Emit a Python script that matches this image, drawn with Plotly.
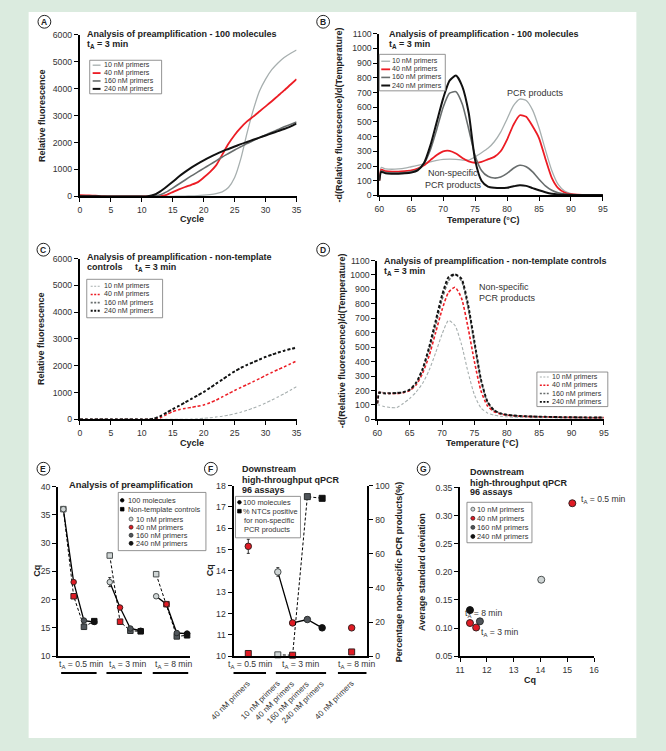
import plotly.graph_objects as go

W, H = 666, 751
FONT = "Liberation Sans, Arial, Helvetica, sans-serif"

# ---------------- data ----------------
cycles = list(range(0, 36))
A_10nM = [15, 12, 8, 5, 3, 2, 1, 0, 0, 0, 0, 0, 0, 0, 2, 5, 8, 12, 18, 28, 45, 70, 105, 170, 330, 700,
          1400, 2350, 3200, 3900, 4350, 4700, 4950, 5150, 5300, 5430]
A_40nM = [45, 40, 30, 18, 8, 3, 0, 0, 0, 0, 0, 0, 0, 10, 60, 160, 260, 350, 430, 520, 700, 900, 1150,
          1550, 1950, 2280, 2550, 2780, 2960, 3150, 3340, 3530, 3730, 3930, 4140, 4350]
A_160nM = [5, 5, 3, 2, 1, 0, 0, 0, 0, 0, 0, 0, 10, 60, 170, 310, 460, 610, 760, 900, 1040, 1180, 1320,
           1460, 1590, 1720, 1840, 1960, 2070, 2180, 2280, 2380, 2480, 2580, 2670, 2760]
A_240nM = [5, 5, 3, 2, 1, 0, 0, 0, 0, 0, 0, 10, 60, 190, 360, 540, 740, 910, 1070, 1210, 1340, 1460, 1570,
           1670, 1760, 1850, 1940, 2020, 2100, 2180, 2260, 2340, 2420, 2500, 2590, 2700]

temps = [60, 60.3] + list(range(61, 96))
B_10nM = [110, 190, 180, 178, 180, 185, 195, 205, 215, 228, 238, 245, 247, 245, 240, 240, 262, 290, 320,
          365, 430, 520, 610, 655, 645, 580, 460, 310, 170, 75, 30, 12, 6, 4, 3, 3, 3]
B_40nM = [100, 175, 165, 162, 162, 165, 170, 182, 205, 240, 275, 300, 303, 285, 255, 232, 222, 228, 245,
          262, 300, 380, 480, 545, 535, 470, 390, 250, 120, 50, 20, 8, 5, 4, 3, 3, 3]
B_160nM = [100, 165, 155, 152, 152, 155, 160, 175, 215, 310, 450, 600, 695, 705, 620, 450, 270, 170, 130,
           118, 125, 150, 185, 205, 195, 160, 110, 65, 35, 18, 10, 6, 4, 3, 3, 3, 3]
B_240nM = [100, 160, 150, 148, 148, 150, 155, 170, 220, 340, 500, 660, 780, 815, 740, 560, 240, 100, 60,
           52, 50, 52, 62, 70, 65, 50, 35, 22, 12, 7, 4, 3, 3, 3, 3, 3, 3]

C_10nM = [0] * 18 + [10, 20, 40, 60, 90, 120, 160, 210, 270, 340, 420, 510, 610, 720, 840, 960, 1090, 1220]
C_40nM = [0] * 13 + [60, 180, 290, 360, 410, 450, 490, 540, 620, 720, 840, 960, 1080, 1190, 1300, 1410,
                     1520, 1640, 1750, 1860, 1960, 2070, 2180]
C_160nM = [0] * 12 + [40, 130, 260, 390, 510, 640, 770, 900, 1030, 1180, 1340, 1490, 1650, 1800, 1930,
                      2040, 2140, 2240, 2340, 2420, 2500, 2570, 2640, 2700]
C_240nM = [0] * 12 + [30, 120, 250, 380, 500, 630, 760, 890, 1020, 1170, 1330, 1480, 1640, 1790, 1920,
                      2030, 2130, 2230, 2330, 2410, 2490, 2560, 2620, 2670]

D_10nM = [100, 100, 90, 82, 82, 110, 145, 190, 250, 340, 460, 590, 685, 650, 520, 330, 170, 80, 45, 30,
          22, 18, 15, 14, 13, 12, 12, 11, 11, 10, 10, 9, 9, 8, 8, 8, 8]
D_40nM = [110, 190, 185, 180, 180, 185, 200, 240, 320, 440, 600, 760, 880, 915, 840, 640, 400, 200, 95,
          55, 38, 30, 25, 22, 20, 19, 18, 17, 16, 15, 14, 14, 13, 13, 12, 12, 12]
D_160nM = [110, 190, 185, 183, 185, 190, 205, 250, 340, 480, 650, 830, 960, 1005, 960, 780, 520, 270, 120,
           65, 42, 32, 27, 24, 22, 20, 19, 18, 17, 16, 15, 15, 14, 14, 13, 13, 13]
D_240nM = [110, 185, 180, 180, 182, 188, 205, 255, 350, 500, 680, 860, 985, 1005, 975, 800, 540, 280, 125,
           65, 42, 32, 27, 24, 22, 20, 19, 18, 17, 16, 15, 15, 14, 14, 13, 13, 13]

primers = ["10 nM primers", "40 nM primers", "160 nM primers", "240 nM primers"]
E_groups = ["0.5 min", "3 min", "8 min"]
E_cq_100mol = [[36.0, 23.1, 16.3, 16.05], [23.1, 18.6, 14.9, 14.5], [20.6, 19.2, 14.1, 14.0]]
E_err_100mol = [[0.2, 0.3, 0.3, 0.3], [0.8, 0.3, 0.3, 0.3], [0.3, 0.3, 0.3, 0.3]]
E_cq_ntc = [[36.0, 20.6, 15.2, 16.2], [27.8, 16.1, 14.5, 14.4], [24.5, 19.2, 13.5, 13.7]]

F_groups = ["0.5 min", "3 min", "8 min"]
F_categories = ["40 nM primers", "10 nM primers", "40 nM primers", "160 nM primers", "240 nM primers",
                "40 nM primers"]
F_pos = [0, 2, 3, 4, 5, 7]
F_primer_idx = [1, 0, 1, 2, 3, 1]
F_cq = [15.15, 13.95, 11.56, 11.72, 11.33, 11.33]
F_cq_err = [0.33, 0.2, 0.1, 0.1, 0.08, 0.08]
F_ntc_pct = [1.6, 0.8, 0.6, 93.5, 92.5, 2.5]

G_cq = [14.03, 15.19, 11.6, 11.37, 11.74, 11.37]
G_sd = [0.186, 0.322, 0.101, 0.109, 0.112, 0.132]
G_primer_idx = [0, 1, 1, 1, 2, 3]

# ---------------- helpers ----------------
def px(x):
    return x / W


def py(y):
    return 1 - y / H


LINE_COL = ["#a7afaf", "#ec1c24", "#686d6d", "#111111"]
MK_FILL = ["#cfd5d5", "#e01b24", "#50555a", "#111111"]
MK_EDGE = ["#4a4f4f", "#3a2020", "#2a2d2d", "#111111"]
TXT = "#222222"

fig = go.Figure()
ann = []
shp = []


def T(x, y, s, size=8.5, bold=False, xa="left", ya="middle", color=TXT, angle=0, xref="paper", yref="paper", xshift=0):
    ann.append(dict(x=(px(x) if xref == "paper" else x), y=(py(y) if yref == "paper" else y),
                    xref=xref, yref=yref, text=("<b>%s</b>" % s if bold else s), showarrow=False,
                    xanchor=xa, yanchor=ya, textangle=angle, xshift=xshift, borderpad=0,
                    font=dict(family=FONT, size=size, color=color)))


def L(x0, y0, x1, y1, color="black", width=1, dash=None):
    d = dict(type="line", xref="paper", yref="paper", x0=px(x0), y0=py(y0), x1=px(x1), y1=py(y1),
             line=dict(color=color, width=width))
    if dash:
        d["line"]["dash"] = dash
    shp.append(d)


def R(x0, y0, x1, y1, color="#777", width=0.8, fill="white", layer="above"):
    shp.append(dict(type="rect", xref="paper", yref="paper", x0=px(x0), y0=py(y1), x1=px(x1), y1=py(y0),
                    line=dict(color=color, width=width), fillcolor=fill, layer=layer))


def CIRC(cx, cy, r, fill, edge, width=0.8):
    shp.append(dict(type="circle", xref="paper", yref="paper", x0=px(cx - r), x1=px(cx + r),
                    y0=py(cy + r), y1=py(cy - r), fillcolor=fill, line=dict(color=edge, width=width)))


def SQ(cx, cy, r, fill, edge, width=0.8):
    shp.append(dict(type="rect", xref="paper", yref="paper", x0=px(cx - r), x1=px(cx + r),
                    y0=py(cy + r), y1=py(cy - r), fillcolor=fill, line=dict(color=edge, width=width)))


# white panel
R(24, 7, 641, 743, color="white", width=0, fill="white", layer="below")


def line_trace(x, y, col, w, xa, ya, dash=None):
    ln = dict(color=col, width=w, shape="spline", smoothing=0.6)
    if dash:
        ln["dash"] = dash
    fig.add_trace(go.Scatter(x=x, y=y, mode="lines", line=ln, xaxis=xa, yaxis=ya,
                             showlegend=False, hoverinfo="skip"))


widths = [1.3, 1.8, 1.6, 2.0]
DASH = "3px,2px"

# A
for vals, c, w in zip([A_10nM, A_40nM, A_160nM, A_240nM], LINE_COL, widths):
    line_trace(cycles, vals, c, w, "x", "y")
# B
for vals, c, w in zip([B_10nM, B_40nM, B_160nM, B_240nM], LINE_COL, widths):
    line_trace(temps, vals, c, w, "x2", "y2")
# C
for vals, c, w in zip([C_10nM, C_40nM, C_160nM, C_240nM], LINE_COL, [1.1, 1.5, 1.6, 1.8]):
    line_trace(cycles, vals, c, w, "x3", "y3", DASH)
# D
for vals, c, w in zip([D_10nM, D_40nM, D_160nM, D_240nM], LINE_COL, [1.1, 1.6, 1.6, 1.9]):
    line_trace(temps, vals, c, w, "x4", "y4", DASH)

# E
for g in range(3):
    xs = [g * 4.5 + i for i in range(4)]
    fig.add_trace(go.Scatter(x=xs, y=E_cq_ntc[g], mode="lines", line=dict(color="black", width=1, dash="3px,2px"),
                             xaxis="x5", yaxis="y5", showlegend=False, hoverinfo="skip"))
    fig.add_trace(go.Scatter(x=xs, y=E_cq_100mol[g], mode="lines", line=dict(color="black", width=1.3),
                             xaxis="x5", yaxis="y5", showlegend=False, hoverinfo="skip"))
for g in range(3):
    xs = [g * 4.5 + i for i in range(4)]
    fig.add_trace(go.Scatter(x=xs, y=E_cq_ntc[g], mode="markers",
                             marker=dict(symbol="square", size=5.5, color=MK_FILL,
                                         line=dict(color=MK_EDGE, width=1)),
                             xaxis="x5", yaxis="y5", showlegend=False, hoverinfo="skip", cliponaxis=False))
    fig.add_trace(go.Scatter(x=xs, y=E_cq_100mol[g], mode="markers",
                             error_y=dict(type="data", array=E_err_100mol[g], color="black", thickness=0.8, width=1.5),
                             marker=dict(symbol="circle", size=5.5, color=MK_FILL,
                                         line=dict(color=MK_EDGE, width=1)),
                             xaxis="x5", yaxis="y5", showlegend=False, hoverinfo="skip", cliponaxis=False))

# F
fig.add_trace(go.Scatter(x=F_pos[1:5], y=F_ntc_pct[1:5], mode="lines", line=dict(color="black", width=1, dash="3px,2px"),
                         xaxis="x6", yaxis="y7", showlegend=False, hoverinfo="skip"))
fig.add_trace(go.Scatter(x=F_pos[1:5], y=F_cq[1:5], mode="lines", line=dict(color="black", width=1.3),
                         xaxis="x6", yaxis="y6", showlegend=False, hoverinfo="skip"))
fig.add_trace(go.Scatter(x=F_pos, y=F_ntc_pct, mode="markers",
                         marker=dict(symbol="square", size=6, color=[MK_FILL[i] for i in F_primer_idx],
                                     line=dict(color=[MK_EDGE[i] for i in F_primer_idx], width=1)),
                         xaxis="x6", yaxis="y7", showlegend=False, hoverinfo="skip", cliponaxis=False))
fig.add_trace(go.Scatter(x=F_pos, y=F_cq, mode="markers",
                         error_y=dict(type="data", array=F_cq_err, color="black", thickness=0.8, width=1.5),
                         marker=dict(symbol="circle", size=6.5, color=[MK_FILL[i] for i in F_primer_idx],
                                     line=dict(color=[MK_EDGE[i] for i in F_primer_idx], width=1)),
                         xaxis="x6", yaxis="y6", showlegend=False, hoverinfo="skip", cliponaxis=False))

# G
fig.add_trace(go.Scatter(x=G_cq, y=G_sd, mode="markers",
                         marker=dict(symbol="circle", size=7, color=[MK_FILL[i] for i in G_primer_idx],
                                     line=dict(color=[MK_EDGE[i] for i in G_primer_idx], width=1)),
                         xaxis="x7", yaxis="y8", showlegend=False, hoverinfo="skip", cliponaxis=False))

# ---------------- axes ----------------
TF = dict(family=FONT, size=8.7, color="#333")


def ax(x0, x1, rng, anchor, horizontal=True, **kw):
    d = dict(range=rng, anchor=anchor, showline=True, linecolor="black", linewidth=2, ticks="outside",
             ticklen=4, tickwidth=1.2, tickcolor="black", showgrid=False, zeroline=False, tickfont=TF,
             fixedrange=True)
    d["domain"] = [px(x0), px(x1)] if horizontal else [py(x1), py(x0)]
    d.update(kw)
    return d


lay = dict(
    xaxis=ax(76, 296, [0, 35], "y", dtick=5),
    yaxis=ax(30, 194, [0, 6000], "x", horizontal=False, dtick=1000),
    xaxis2=ax(380, 607, [60, 95], "y2", dtick=5),
    yaxis2=ax(29, 193, [0, 1100], "x2", horizontal=False, dtick=100),
    xaxis3=ax(76, 296, [0, 35], "y3", dtick=5),
    yaxis3=ax(257, 420, [0, 6000], "x3", horizontal=False, dtick=1000),
    xaxis4=ax(378, 608, [60, 95], "y4", dtick=5),
    yaxis4=ax(259, 420, [0, 1100], "x4", horizontal=False, dtick=100),
    xaxis5=ax(54, 188, [-0.5, 12.3], "y5", ticks="", showticklabels=False),
    yaxis5=ax(488, 660, [10, 40], "x5", horizontal=False, dtick=5),
    xaxis6=ax(232, 368, [-1, 8.07], "y6", ticks="", showticklabels=False),
    yaxis6=ax(487, 660, [10, 18], "x6", horizontal=False, dtick=1),
    yaxis7=ax(487, 660, [0, 100], "x6", horizontal=False, dtick=20, overlaying="y6", side="right"),
    xaxis7=ax(462, 598, [11, 16], "y8", dtick=1),
    yaxis8=ax(489, 660, [0.05, 0.35], "x7", horizontal=False, dtick=0.05, tickformat=".2f"),
)

# ---------------- texts ----------------
TS = 9  # title size
LS = 7.1  # legend size
# panel letters
for lab, (cx, cy) in zip("ABCDEFG", [(40, 17), (323, 17), (39, 248), (323, 248), (39, 470), (209, 470), (425, 470)]):
    CIRC(cx, cy, 6.5, "white", "#222", 1)
    T(cx, cy + 0.5, lab, size=8.5, bold=True, xa="center")

# A
T(82, 29, "Analysis of preamplification - 100 molecules", TS, True)
T(82, 40, "t<sub>A</sub> = 3 min", TS, True)
T(37, 112, "Relative fluorescence", TS, True, xa="center", angle=-90)
T(190, 217, "Cycle", TS, True, xa="center")
R(86, 56, 159, 90)
for i, (p, c, w) in enumerate(zip(primers, LINE_COL, widths)):
    yy = 61 + i * 8
    L(89, yy, 97, yy, c, w)
    T(100, yy, p, LS, color="#333")

# B
T(389, 29, "Analysis of preamplification - 100 molecules", TS, True)
T(389, 40, "t<sub>A</sub> = 3 min", TS, True)
T(339, 111, "-d(Relative fluorescence)/d(Temperature)", TS, True, xa="center", angle=-90)
T(485, 218, "Temperature (°C)", TS, True, xa="center")
R(380, 50, 447, 87)
for i, (p, c, w) in enumerate(zip(primers, LINE_COL, widths)):
    yy = 57 + i * 8.2
    L(382, yy, 391, yy, c, w)
    T(392, yy, p, LS, color="#333")
T(539, 89, "PCR products", 9, color="#333", xa="center")
T(455, 170, "Non-specific", 9, color="#333", xa="center")
T(455, 182, "PCR products", 9, color="#333", xa="center")

# C
T(82, 255, "Analysis of preamplification - non-template", TS, True)
T(82, 266, "controls", TS, True)
T(131, 266, "t<sub>A</sub> = 3 min", TS, True)
T(37, 338, "Relative fluorescence", TS, True, xa="center", angle=-90)
T(190, 444, "Cycle", TS, True, xa="center")
R(83, 278, 160, 317)
for i, (p, c, w) in enumerate(zip(primers, LINE_COL, [1.1, 1.5, 1.6, 1.8])):
    yy = 285 + i * 8.3
    L(87, yy, 97, yy, c, w, "2px,1.5px")
    T(100, yy, p, LS, color="#333")

# D
T(384, 259, "Analysis of preamplification - non-template controls", TS, True)
T(384, 270, "t<sub>A</sub> = 3 min", TS, True)
T(343, 340, "-d(Relative fluorescence)/d(Temperature)", TS, True, xa="center", angle=-90)
T(484, 444, "Temperature (°C)", TS, True, xa="center")
T(480, 286, "Non-specific", 9, color="#333")
T(480, 297, "PCR products", 9, color="#333")
R(540, 372, 612, 407)
for i, (p, c, w) in enumerate(zip(primers, LINE_COL, [1.1, 1.5, 1.6, 1.8])):
    yy = 377 + i * 8.4
    L(543, yy, 552, yy, c, w, "2px,1.5px")
    T(554, yy, p, LS, color="#333")

# E
T(128, 486, "Analysis of preamplification", 9.3, True, xa="center")
T(33, 574, "Cq", TS, True, xa="center", angle=-90)
R(115, 494, 204, 553)
CIRC(119, 502, 1.8, "black", "black")
T(124, 502, "100 molecules", 7.4, color="#333")
SQ(119, 511, 1.8, "black", "black")
T(124, 511, "Non-template controls", 7.4, color="#333")
for i, p in enumerate(primers):
    yy = 521 + i * 8.2
    CIRC(128, yy, 2, MK_FILL[i], MK_EDGE[i])
    T(132, yy, p, 7.4, color="#333")
for g, gl, (u0, u1) in zip(range(3), E_groups, [(57, 93), (103, 139), (150, 186)]):
    T((u0 + u1) / 2 + 3, 668, "t<sub>A</sub> = " + gl, 8.6, color="#333", xa="center")
    L(u0, 677, u1, 677, "black", 2)

# F
T(240, 470, "Downstream", TS, True)
T(240, 481, "high-throughput qPCR", TS, True)
T(240, 492, "96 assays", TS, True)
T(209, 573, "Cq", TS, True, xa="center", angle=-90)
T(400, 574, "Percentage non-specific PCR products(%)", TS, True, xa="center", angle=-90)
R(234, 498, 300, 540)
CIRC(238, 504, 1.8, "black", "black")
T(241, 504, "100 molecules", 7.4, color="#333")
SQ(238, 513, 1.8, "black", "black")
T(241, 513, "% NTCs positive", 7.4, color="#333")
T(242, 522.5, "for non-specific", 7.4, color="#333")
T(242, 532, "PCR products", 7.4, color="#333")
for gl, (u0, u1), cx in zip(F_groups, [(232, 265), (275, 326), (338, 367)], [249, 300, 357]):
    T(cx, 668, "t<sub>A</sub> = " + gl, 8.6, color="#333", xa="center")
    L(u0, 677, u1, 677, "black", 2)
for pos, cat in zip(F_pos, F_categories):
    ann.append(dict(x=pos, y=py(682), xref="x6", yref="paper", text=cat, showarrow=False, xanchor="right",
                    yanchor="top", textangle=-45, xshift=5, borderpad=0,
                    font=dict(family=FONT, size=8, color="#333")))

# G
T(471, 473, "Downstream", TS, True)
T(471, 484, "high-throughput qPCR", TS, True)
T(471, 494, "96 assays", TS, True)
T(424, 575, "Average standard deviation", TS, True, xa="center", angle=-90)
T(533, 684, "Cq", TS, True, xa="center")
R(469, 504, 535, 545)
for i, p in enumerate(primers):
    yy = 511 + i * 9.2
    CIRC(475, yy, 2, MK_FILL[i], MK_EDGE[i])
    T(478, yy, p, 7.4, color="#333")
T(584, 501, "t<sub>A</sub> = 0.5 min", 8.6, color="#333")
T(466, 617, "t<sub>A</sub> = 8 min", 8.6, color="#333")
T(482, 636, "t<sub>A</sub> = 3 min", 8.6, color="#333")

fig.update_layout(
    width=W, height=H, autosize=False, margin=dict(l=0, r=0, t=0, b=0),
    paper_bgcolor="#dbebdf", plot_bgcolor="rgba(0,0,0,0)",
    font=dict(family=FONT, size=9, color=TXT),
    showlegend=False, annotations=ann, shapes=shp, **lay,
)

fig.write_html("out.html", config={"displayModeBar": False},
               post_script="document.body.style.margin='0px';document.body.style.padding='0px';")
